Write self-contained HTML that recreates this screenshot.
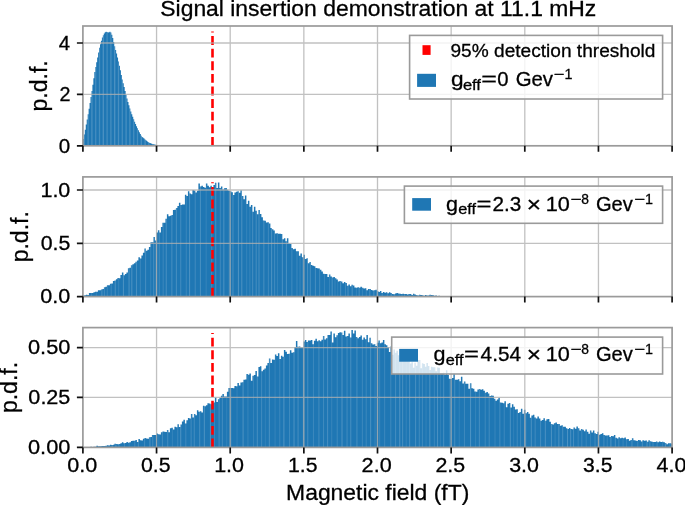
<!DOCTYPE html>
<html><head><meta charset="utf-8"><style>html,body{margin:0;padding:0;background:#fff;overflow:hidden}svg{display:block;will-change:transform}text{fill:#000;stroke:#000;stroke-width:0.3px}</style></head>
<body><svg width="685" height="505" viewBox="0 0 685 505"><rect width="685" height="505" fill="#fff"/><path d="M82.90,145.8L82.90,139.00L83.85,139.00L83.85,134.62L84.80,134.62L84.80,129.63L85.75,129.63L85.75,124.47L86.70,124.47L86.70,119.40L87.65,119.40L87.65,114.18L88.60,114.18L88.60,108.71L89.55,108.71L89.55,103.00L90.50,103.00L90.50,97.06L91.45,97.06L91.45,91.12L92.40,91.12L92.40,84.84L93.35,84.84L93.35,78.13L94.30,78.13L94.30,71.94L95.25,71.94L95.25,66.90L96.20,66.90L96.20,62.27L97.15,62.27L97.15,57.58L98.10,57.58L98.10,52.44L99.05,52.44L99.05,47.72L100.00,47.72L100.00,44.23L100.95,44.23L100.95,40.84L101.90,40.84L101.90,37.59L102.85,37.59L102.85,35.14L103.80,35.14L103.80,33.43L104.75,33.43L104.75,32.26L105.70,32.26L105.70,31.74L106.65,31.74L106.65,32.08L107.60,32.08L107.60,32.58L108.55,32.58L108.55,32.15L109.50,32.15L109.50,31.66L110.45,31.66L110.45,32.45L111.40,32.45L111.40,34.63L112.35,34.63L112.35,37.98L113.30,37.98L113.30,42.03L114.25,42.03L114.25,46.13L115.20,46.13L115.20,49.94L116.15,49.94L116.15,53.61L117.10,53.61L117.10,57.46L118.05,57.46L118.05,61.46L119.00,61.46L119.00,65.63L119.95,65.63L119.95,70.21L120.90,70.21L120.90,74.98L121.85,74.98L121.85,79.40L122.80,79.40L122.80,83.26L123.75,83.26L123.75,87.01L124.70,87.01L124.70,91.00L125.65,91.00L125.65,95.00L126.60,95.00L126.60,98.60L127.55,98.60L127.55,102.02L128.50,102.02L128.50,105.31L129.45,105.31L129.45,108.51L130.40,108.51L130.40,111.47L131.35,111.47L131.35,114.14L132.30,114.14L132.30,116.75L133.25,116.75L133.25,119.33L134.20,119.33L134.20,121.71L135.15,121.71L135.15,123.94L136.10,123.94L136.10,126.15L137.05,126.15L137.05,128.31L138.00,128.31L138.00,130.32L138.95,130.32L138.95,132.21L139.90,132.21L139.90,134.07L140.85,134.07L140.85,135.77L141.80,135.77L141.80,136.93L142.75,136.93L142.75,137.78L143.70,137.78L143.70,138.60L144.65,138.60L144.65,139.42L145.60,139.42L145.60,140.24L146.55,140.24L146.55,141.07L147.50,141.07L147.50,141.89L148.45,141.89L148.45,142.59L149.40,142.59L149.40,143.01L150.35,143.01L150.35,143.33L151.30,143.33L151.30,143.64L152.25,143.64L152.25,143.95L153.20,143.95L153.20,144.26L154.15,144.26L154.15,144.55L155.10,144.55L155.10,144.79L156.05,144.79L156.05,145.03L157.00,145.03L157.00,145.26L157.95,145.26L157.95,145.43L158.90,145.43L158.90,145.54L159.85,145.54L159.85,145.63L160.80,145.63L160.80,145.8L161.75,145.8L161.75,145.8L162.70,145.8L162.70,145.8L163.65,145.8L163.65,145.8L164.60,145.8L164.60,145.8L165.55,145.8L165.55,145.8L166.50,145.8L166.50,145.8L167.45,145.8L167.45,145.8L168.40,145.8L168.40,145.8L169.35,145.8L169.35,145.8L170.30,145.8L170.30,145.8L171.25,145.8L171.25,145.8L172.20,145.8L172.20,145.8L173.15,145.8L173.15,145.8L174.10,145.8L174.10,145.8L175.05,145.8L175.05,145.8L176.00,145.8L176.00,145.8L176.95,145.8L176.95,145.8L177.90,145.8L177.90,145.8L178.85,145.8L178.85,145.8L179.80,145.8L179.80,145.8L180.75,145.8L180.75,145.8L181.70,145.8L181.70,145.8L182.65,145.8L182.65,145.8L183.60,145.8L183.60,145.8L184.55,145.8L184.55,145.8L185.50,145.8L185.50,145.8L186.45,145.8L186.45,145.8L187.40,145.8L187.40,145.8L188.35,145.8L188.35,145.8L189.30,145.8L189.30,145.8L190.25,145.8L190.25,145.8L191.20,145.8L191.20,145.8L192.15,145.8L192.15,145.8L193.10,145.8L193.10,145.8L194.05,145.8L194.05,145.8L195.00,145.8L195.00,145.8L195.95,145.8L195.95,145.8L196.90,145.8L196.90,145.8L197.85,145.8L197.85,145.8L198.80,145.8L198.80,145.8L199.75,145.8L199.75,145.8L200.70,145.8L200.70,145.8L201.65,145.8L201.65,145.8L202.60,145.8L202.60,145.8L203.55,145.8L203.55,145.8L204.50,145.8L204.50,145.8L205.45,145.8L205.45,145.8L206.40,145.8L206.40,145.8L207.35,145.8L207.35,145.8L208.30,145.8L208.30,145.8L209.25,145.8L209.25,145.8L210.20,145.8L210.20,145.8L211.15,145.8L211.15,145.8L212.10,145.8L212.10,145.8L213.05,145.8L213.05,145.8L214.00,145.8L214.00,145.8L214.95,145.8L214.95,145.8L215.90,145.8L215.90,145.8L216.85,145.8L216.85,145.8L217.80,145.8L217.80,145.8L218.75,145.8L218.75,145.8L219.70,145.8L219.70,145.8L220.65,145.8L220.65,145.8L221.60,145.8L221.60,145.8L222.55,145.8L222.55,145.8L223.50,145.8L223.50,145.8L224.45,145.8L224.45,145.8L225.40,145.8L225.40,145.8L226.35,145.8L226.35,145.8L227.30,145.8L227.30,145.8L228.25,145.8L228.25,145.8L229.20,145.8L229.20,145.8L230.15,145.8L230.15,145.8L231.10,145.8L231.10,145.8L232.05,145.8L232.05,145.8L233.00,145.8L233.00,145.8L233.95,145.8L233.95,145.8L234.90,145.8L234.90,145.8L235.85,145.8L235.85,145.8L236.80,145.8L236.80,145.8L237.75,145.8L237.75,145.8L238.70,145.8L238.70,145.8L239.65,145.8L239.65,145.8L240.60,145.8L240.60,145.8L241.55,145.8L241.55,145.8L242.50,145.8L242.50,145.8L243.45,145.8L243.45,145.8L244.40,145.8L244.40,145.8L245.35,145.8L245.35,145.8L246.30,145.8L246.30,145.8L247.25,145.8L247.25,145.8L248.20,145.8L248.20,145.8L249.15,145.8L249.15,145.8L250.10,145.8L250.10,145.8L251.05,145.8L251.05,145.8L252.00,145.8L252.00,145.8L252.95,145.8L252.95,145.8L253.90,145.8L253.90,145.8L254.85,145.8L254.85,145.8L255.80,145.8L255.80,145.8L256.75,145.8L256.75,145.8L257.70,145.8L257.70,145.8L258.65,145.8L258.65,145.8L259.60,145.8L259.60,145.8L260.55,145.8L260.55,145.8L261.50,145.8L261.50,145.8L262.45,145.8L262.45,145.8L263.40,145.8L263.40,145.8L264.35,145.8L264.35,145.8L265.30,145.8L265.30,145.8L266.25,145.8L266.25,145.8L267.20,145.8L267.20,145.8L268.15,145.8L268.15,145.8L269.10,145.8L269.10,145.8L270.05,145.8L270.05,145.8L271.00,145.8L271.00,145.8L271.95,145.8L271.95,145.8L272.90,145.8L272.90,145.8L273.85,145.8L273.85,145.8L274.80,145.8L274.80,145.8L275.75,145.8L275.75,145.8L276.70,145.8L276.70,145.8L277.65,145.8L277.65,145.8L278.60,145.8L278.60,145.8L279.55,145.8L279.55,145.8L280.50,145.8L280.50,145.8L281.45,145.8L281.45,145.8L282.40,145.8L282.40,145.8L283.35,145.8L283.35,145.8L284.30,145.8L284.30,145.8L285.25,145.8L285.25,145.8L286.20,145.8L286.20,145.8L287.15,145.8L287.15,145.8L288.10,145.8L288.10,145.8L289.05,145.8L289.05,145.8L290.00,145.8L290.00,145.8L290.95,145.8L290.95,145.8L291.90,145.8L291.90,145.8L292.85,145.8L292.85,145.8L293.80,145.8L293.80,145.8L294.75,145.8L294.75,145.8L295.70,145.8L295.70,145.8L296.65,145.8L296.65,145.8L297.60,145.8L297.60,145.8L298.55,145.8L298.55,145.8L299.50,145.8L299.50,145.8L300.45,145.8L300.45,145.8L301.40,145.8L301.40,145.8L302.35,145.8L302.35,145.8L303.30,145.8L303.30,145.8L304.25,145.8L304.25,145.8L305.20,145.8L305.20,145.8L306.15,145.8L306.15,145.8L307.10,145.8L307.10,145.8L308.05,145.8L308.05,145.8L309.00,145.8L309.00,145.8L309.95,145.8L309.95,145.8L310.90,145.8L310.90,145.8L311.85,145.8L311.85,145.8L312.80,145.8L312.80,145.8L313.75,145.8L313.75,145.8L314.70,145.8L314.70,145.8L315.65,145.8L315.65,145.8L316.60,145.8L316.60,145.8L317.55,145.8L317.55,145.8L318.50,145.8L318.50,145.8L319.45,145.8L319.45,145.8L320.40,145.8L320.40,145.8L321.35,145.8L321.35,145.8L322.30,145.8L322.30,145.8L323.25,145.8L323.25,145.8L324.20,145.8L324.20,145.8L325.15,145.8L325.15,145.8L326.10,145.8L326.10,145.8L327.05,145.8L327.05,145.8L328.00,145.8L328.00,145.8L328.95,145.8L328.95,145.8L329.90,145.8L329.90,145.8L330.85,145.8L330.85,145.8L331.80,145.8L331.80,145.8L332.75,145.8L332.75,145.8L333.70,145.8L333.70,145.8L334.65,145.8L334.65,145.8L335.60,145.8L335.60,145.8L336.55,145.8L336.55,145.8L337.50,145.8L337.50,145.8L338.45,145.8L338.45,145.8L339.40,145.8L339.40,145.8L340.35,145.8L340.35,145.8L341.30,145.8L341.30,145.8L342.25,145.8L342.25,145.8L343.20,145.8L343.20,145.8L344.15,145.8L344.15,145.8L345.10,145.8L345.10,145.8L346.05,145.8L346.05,145.8L347.00,145.8L347.00,145.8L347.95,145.8L347.95,145.8L348.90,145.8L348.90,145.8L349.85,145.8L349.85,145.8L350.80,145.8L350.80,145.8L351.75,145.8L351.75,145.8L352.70,145.8L352.70,145.8L353.65,145.8L353.65,145.8L354.60,145.8L354.60,145.8L355.55,145.8L355.55,145.8L356.50,145.8L356.50,145.8L357.45,145.8L357.45,145.8L358.40,145.8L358.40,145.8L359.35,145.8L359.35,145.8L360.30,145.8L360.30,145.8L361.25,145.8L361.25,145.8L362.20,145.8L362.20,145.8L363.15,145.8L363.15,145.8L364.10,145.8L364.10,145.8L365.05,145.8L365.05,145.8L366.00,145.8L366.00,145.8L366.95,145.8L366.95,145.8L367.90,145.8L367.90,145.8L368.85,145.8L368.85,145.8L369.80,145.8L369.80,145.8L370.75,145.8L370.75,145.8L371.70,145.8L371.70,145.8L372.65,145.8L372.65,145.8L373.60,145.8L373.60,145.8L374.55,145.8L374.55,145.8L375.50,145.8L375.50,145.8L376.45,145.8L376.45,145.8L377.40,145.8L377.40,145.8L378.35,145.8L378.35,145.8L379.30,145.8L379.30,145.8L380.25,145.8L380.25,145.8L381.20,145.8L381.20,145.8L382.15,145.8L382.15,145.8L383.10,145.8L383.10,145.8L384.05,145.8L384.05,145.8L385.00,145.8L385.00,145.8L385.95,145.8L385.95,145.8L386.90,145.8L386.90,145.8L387.85,145.8L387.85,145.8L388.80,145.8L388.80,145.8L389.75,145.8L389.75,145.8L390.70,145.8L390.70,145.8L391.65,145.8L391.65,145.8L392.60,145.8L392.60,145.8L393.55,145.8L393.55,145.8L394.50,145.8L394.50,145.8L395.45,145.8L395.45,145.8L396.40,145.8L396.40,145.8L397.35,145.8L397.35,145.8L398.30,145.8L398.30,145.8L399.25,145.8L399.25,145.8L400.20,145.8L400.20,145.8L401.15,145.8L401.15,145.8L402.10,145.8L402.10,145.8L403.05,145.8L403.05,145.8L404.00,145.8L404.00,145.8L404.95,145.8L404.95,145.8L405.90,145.8L405.90,145.8L406.85,145.8L406.85,145.8L407.80,145.8L407.80,145.8L408.75,145.8L408.75,145.8L409.70,145.8L409.70,145.8L410.65,145.8L410.65,145.8L411.60,145.8L411.60,145.8L412.55,145.8L412.55,145.8L413.50,145.8L413.50,145.8L414.45,145.8L414.45,145.8L415.40,145.8L415.40,145.8L416.35,145.8L416.35,145.8L417.30,145.8L417.30,145.8L418.25,145.8L418.25,145.8L419.20,145.8L419.20,145.8L420.15,145.8L420.15,145.8L421.10,145.8L421.10,145.8L422.05,145.8L422.05,145.8L423.00,145.8L423.00,145.8L423.95,145.8L423.95,145.8L424.90,145.8L424.90,145.8L425.85,145.8L425.85,145.8L426.80,145.8L426.80,145.8L427.75,145.8L427.75,145.8L428.70,145.8L428.70,145.8L429.65,145.8L429.65,145.8L430.60,145.8L430.60,145.8L431.55,145.8L431.55,145.8L432.50,145.8L432.50,145.8L433.45,145.8L433.45,145.8L434.40,145.8L434.40,145.8L435.35,145.8L435.35,145.8L436.30,145.8L436.30,145.8L437.25,145.8L437.25,145.8L438.20,145.8L438.20,145.8L439.15,145.8L439.15,145.8L440.10,145.8L440.10,145.8L441.05,145.8L441.05,145.8L442.00,145.8L442.00,145.8L442.95,145.8L442.95,145.8L443.90,145.8L443.90,145.8L444.85,145.8L444.85,145.8L445.80,145.8L445.80,145.8L446.75,145.8L446.75,145.8L447.70,145.8L447.70,145.8L448.65,145.8L448.65,145.8L449.60,145.8L449.60,145.8L450.55,145.8L450.55,145.8L451.50,145.8L451.50,145.8L452.45,145.8L452.45,145.8L453.40,145.8L453.40,145.8L454.35,145.8L454.35,145.8L455.30,145.8L455.30,145.8L456.25,145.8L456.25,145.8L457.20,145.8L457.20,145.8L458.15,145.8L458.15,145.8L459.10,145.8L459.10,145.8L460.05,145.8L460.05,145.8L461.00,145.8L461.00,145.8L461.95,145.8L461.95,145.8L462.90,145.8L462.90,145.8L463.85,145.8L463.85,145.8L464.80,145.8L464.80,145.8L465.75,145.8L465.75,145.8L466.70,145.8L466.70,145.8L467.65,145.8L467.65,145.8L468.60,145.8L468.60,145.8L469.55,145.8L469.55,145.8L470.50,145.8L470.50,145.8L471.45,145.8L471.45,145.8L472.40,145.8L472.40,145.8L473.35,145.8L473.35,145.8L474.30,145.8L474.30,145.8L475.25,145.8L475.25,145.8L476.20,145.8L476.20,145.8L477.15,145.8L477.15,145.8L478.10,145.8L478.10,145.8L479.05,145.8L479.05,145.8L480.00,145.8L480.00,145.8L480.95,145.8L480.95,145.8L481.90,145.8L481.90,145.8L482.85,145.8L482.85,145.8L483.80,145.8L483.80,145.8L484.75,145.8L484.75,145.8L485.70,145.8L485.70,145.8L486.65,145.8L486.65,145.8L487.60,145.8L487.60,145.8L488.55,145.8L488.55,145.8L489.50,145.8L489.50,145.8L490.45,145.8L490.45,145.8L491.40,145.8L491.40,145.8L492.35,145.8L492.35,145.8L493.30,145.8L493.30,145.8L494.25,145.8L494.25,145.8L495.20,145.8L495.20,145.8L496.15,145.8L496.15,145.8L497.10,145.8L497.10,145.8L498.05,145.8L498.05,145.8L499.00,145.8L499.00,145.8L499.95,145.8L499.95,145.8L500.90,145.8L500.90,145.8L501.85,145.8L501.85,145.8L502.80,145.8L502.80,145.8L503.75,145.8L503.75,145.8L504.70,145.8L504.70,145.8L505.65,145.8L505.65,145.8L506.60,145.8L506.60,145.8L507.55,145.8L507.55,145.8L508.50,145.8L508.50,145.8L509.45,145.8L509.45,145.8L510.40,145.8L510.40,145.8L511.35,145.8L511.35,145.8L512.30,145.8L512.30,145.8L513.25,145.8L513.25,145.8L514.20,145.8L514.20,145.8L515.15,145.8L515.15,145.8L516.10,145.8L516.10,145.8L517.05,145.8L517.05,145.8L518.00,145.8L518.00,145.8L518.95,145.8L518.95,145.8L519.90,145.8L519.90,145.8L520.85,145.8L520.85,145.8L521.80,145.8L521.80,145.8L522.75,145.8L522.75,145.8L523.70,145.8L523.70,145.8L524.65,145.8L524.65,145.8L525.60,145.8L525.60,145.8L526.55,145.8L526.55,145.8L527.50,145.8L527.50,145.8L528.45,145.8L528.45,145.8L529.40,145.8L529.40,145.8L530.35,145.8L530.35,145.8L531.30,145.8L531.30,145.8L532.25,145.8L532.25,145.8L533.20,145.8L533.20,145.8L534.15,145.8L534.15,145.8L535.10,145.8L535.10,145.8L536.05,145.8L536.05,145.8L537.00,145.8L537.00,145.8L537.95,145.8L537.95,145.8L538.90,145.8L538.90,145.8L539.85,145.8L539.85,145.8L540.80,145.8L540.80,145.8L541.75,145.8L541.75,145.8L542.70,145.8L542.70,145.8L543.65,145.8L543.65,145.8L544.60,145.8L544.60,145.8L545.55,145.8L545.55,145.8L546.50,145.8L546.50,145.8L547.45,145.8L547.45,145.8L548.40,145.8L548.40,145.8L549.35,145.8L549.35,145.8L550.30,145.8L550.30,145.8L551.25,145.8L551.25,145.8L552.20,145.8L552.20,145.8L553.15,145.8L553.15,145.8L554.10,145.8L554.10,145.8L555.05,145.8L555.05,145.8L556.00,145.8L556.00,145.8L556.95,145.8L556.95,145.8L557.90,145.8L557.90,145.8L558.85,145.8L558.85,145.8L559.80,145.8L559.80,145.8L560.75,145.8L560.75,145.8L561.70,145.8L561.70,145.8L562.65,145.8L562.65,145.8L563.60,145.8L563.60,145.8L564.55,145.8L564.55,145.8L565.50,145.8L565.50,145.8L566.45,145.8L566.45,145.8L567.40,145.8L567.40,145.8L568.35,145.8L568.35,145.8L569.30,145.8L569.30,145.8L570.25,145.8L570.25,145.8L571.20,145.8L571.20,145.8L572.15,145.8L572.15,145.8L573.10,145.8L573.10,145.8L574.05,145.8L574.05,145.8L575.00,145.8L575.00,145.8L575.95,145.8L575.95,145.8L576.90,145.8L576.90,145.8L577.85,145.8L577.85,145.8L578.80,145.8L578.80,145.8L579.75,145.8L579.75,145.8L580.70,145.8L580.70,145.8L581.65,145.8L581.65,145.8L582.60,145.8L582.60,145.8L583.55,145.8L583.55,145.8L584.50,145.8L584.50,145.8L585.45,145.8L585.45,145.8L586.40,145.8L586.40,145.8L587.35,145.8L587.35,145.8L588.30,145.8L588.30,145.8L589.25,145.8L589.25,145.8L590.20,145.8L590.20,145.8L591.15,145.8L591.15,145.8L592.10,145.8L592.10,145.8L593.05,145.8L593.05,145.8L594.00,145.8L594.00,145.8L594.95,145.8L594.95,145.8L595.90,145.8L595.90,145.8L596.85,145.8L596.85,145.8L597.80,145.8L597.80,145.8L598.75,145.8L598.75,145.8L599.70,145.8L599.70,145.8L600.65,145.8L600.65,145.8L601.60,145.8L601.60,145.8L602.55,145.8L602.55,145.8L603.50,145.8L603.50,145.8L604.45,145.8L604.45,145.8L605.40,145.8L605.40,145.8L606.35,145.8L606.35,145.8L607.30,145.8L607.30,145.8L608.25,145.8L608.25,145.8L609.20,145.8L609.20,145.8L610.15,145.8L610.15,145.8L611.10,145.8L611.10,145.8L612.05,145.8L612.05,145.8L613.00,145.8L613.00,145.8L613.95,145.8L613.95,145.8L614.90,145.8L614.90,145.8L615.85,145.8L615.85,145.8L616.80,145.8L616.80,145.8L617.75,145.8L617.75,145.8L618.70,145.8L618.70,145.8L619.65,145.8L619.65,145.8L620.60,145.8L620.60,145.8L621.55,145.8L621.55,145.8L622.50,145.8L622.50,145.8L623.45,145.8L623.45,145.8L624.40,145.8L624.40,145.8L625.35,145.8L625.35,145.8L626.30,145.8L626.30,145.8L627.25,145.8L627.25,145.8L628.20,145.8L628.20,145.8L629.15,145.8L629.15,145.8L630.10,145.8L630.10,145.8L631.05,145.8L631.05,145.8L632.00,145.8L632.00,145.8L632.95,145.8L632.95,145.8L633.90,145.8L633.90,145.8L634.85,145.8L634.85,145.8L635.80,145.8L635.80,145.8L636.75,145.8L636.75,145.8L637.70,145.8L637.70,145.8L638.65,145.8L638.65,145.8L639.60,145.8L639.60,145.8L640.55,145.8L640.55,145.8L641.50,145.8L641.50,145.8L642.45,145.8L642.45,145.8L643.40,145.8L643.40,145.8L644.35,145.8L644.35,145.8L645.30,145.8L645.30,145.8L646.25,145.8L646.25,145.8L647.20,145.8L647.20,145.8L648.15,145.8L648.15,145.8L649.10,145.8L649.10,145.8L650.05,145.8L650.05,145.8L651.00,145.8L651.00,145.8L651.95,145.8L651.95,145.8L652.90,145.8L652.90,145.8L653.85,145.8L653.85,145.8L654.80,145.8L654.80,145.8L655.75,145.8L655.75,145.8L656.70,145.8L656.70,145.8L657.65,145.8L657.65,145.8L658.60,145.8L658.60,145.8L659.55,145.8L659.55,145.8L660.50,145.8L660.50,145.8L661.45,145.8L661.45,145.8L662.40,145.8L662.40,145.8L663.35,145.8L663.35,145.8L664.30,145.8L664.30,145.8L665.25,145.8L665.25,145.8L666.20,145.8L666.20,145.8L667.15,145.8L667.15,145.8L668.10,145.8L668.10,145.8L669.05,145.8L669.05,145.8L670.00,145.8L670.00,145.8L670.95,145.8L670.95,145.8L671.90,145.8L671.90,145.8L672.10,145.8L672.10,145.8Z" fill="#1f77b4"/><rect x="83.65" y="134.62" width="1.3" height="11.18" fill="#fff" fill-opacity="0.17"/><rect x="87.45" y="114.18" width="1.3" height="31.62" fill="#fff" fill-opacity="0.18"/><rect x="91.25" y="91.12" width="1.3" height="54.68" fill="#fff" fill-opacity="0.18"/><rect x="95.05" y="66.90" width="1.3" height="78.90" fill="#fff" fill-opacity="0.16"/><rect x="98.85" y="47.72" width="1.3" height="98.08" fill="#fff" fill-opacity="0.17"/><rect x="102.65" y="35.14" width="1.3" height="110.66" fill="#fff" fill-opacity="0.20"/><rect x="106.45" y="32.08" width="1.3" height="113.72" fill="#fff" fill-opacity="0.16"/><rect x="110.25" y="32.45" width="1.3" height="113.35" fill="#fff" fill-opacity="0.17"/><rect x="114.05" y="46.13" width="1.3" height="99.67" fill="#fff" fill-opacity="0.20"/><rect x="117.85" y="61.46" width="1.3" height="84.34" fill="#fff" fill-opacity="0.18"/><rect x="121.65" y="79.40" width="1.3" height="66.40" fill="#fff" fill-opacity="0.17"/><rect x="125.45" y="95.00" width="1.3" height="50.80" fill="#fff" fill-opacity="0.18"/><rect x="129.25" y="108.51" width="1.3" height="37.29" fill="#fff" fill-opacity="0.19"/><rect x="133.05" y="119.33" width="1.3" height="26.47" fill="#fff" fill-opacity="0.17"/><rect x="136.85" y="128.31" width="1.3" height="17.49" fill="#fff" fill-opacity="0.17"/><rect x="140.65" y="135.77" width="1.3" height="10.03" fill="#fff" fill-opacity="0.19"/><rect x="144.45" y="139.42" width="1.3" height="6.38" fill="#fff" fill-opacity="0.19"/><rect x="148.25" y="142.59" width="1.3" height="3.21" fill="#fff" fill-opacity="0.18"/><rect x="152.05" y="143.95" width="1.3" height="1.85" fill="#fff" fill-opacity="0.19"/><path d="M212.5,145.8L212.5,31.4" stroke="#ff0000" stroke-width="2.6" stroke-dasharray="8.9 3.7" fill="none"/><path d="M156.55,26.0L156.55,145.8M230.20,26.0L230.20,145.8M303.85,26.0L303.85,145.8M377.50,26.0L377.50,145.8M451.15,26.0L451.15,145.8M524.80,26.0L524.80,145.8M598.45,26.0L598.45,145.8M82.9,94.40L672.1,94.40M82.9,43.00L672.1,43.00" stroke="#b0b0b0" stroke-opacity="0.78" stroke-width="1.3" fill="none"/><rect x="82.9" y="26.0" width="589.20" height="119.80" fill="none" stroke="#9a9a9a" stroke-width="1.7"/><path d="M82.90,145.8L82.90,151.8M156.55,145.8L156.55,151.8M230.20,145.8L230.20,151.8M303.85,145.8L303.85,151.8M377.50,145.8L377.50,151.8M451.15,145.8L451.15,151.8M524.80,145.8L524.80,151.8M598.45,145.8L598.45,151.8M672.10,145.8L672.10,151.8M82.9,145.80L76.9,145.80M82.9,94.40L76.9,94.40M82.9,43.00L76.9,43.00" stroke="#111" stroke-width="1.7" fill="none"/><text x="58.88" y="152.60" font-family="Liberation Sans, sans-serif" font-size="20.3" textLength="11.41" lengthAdjust="spacingAndGlyphs">0</text><text x="59.54" y="101.20" font-family="Liberation Sans, sans-serif" font-size="20.3" textLength="10.97" lengthAdjust="spacingAndGlyphs">2</text><text x="58.76" y="49.80" font-family="Liberation Sans, sans-serif" font-size="20.3" textLength="11.32" lengthAdjust="spacingAndGlyphs">4</text><path d="M82.90,296.6L82.90,295.58L84.40,295.58L84.40,295.29L85.90,295.29L85.90,294.79L87.40,294.79L87.40,295.01L88.90,295.01L88.90,293.04L90.40,293.04L90.40,292.88L91.90,292.88L91.90,293.11L93.40,293.11L93.40,292.14L94.90,292.14L94.90,291.87L96.40,291.87L96.40,291.75L97.90,291.75L97.90,290.23L99.40,290.23L99.40,290.27L100.90,290.27L100.90,289.51L102.40,289.51L102.40,289.00L103.90,289.00L103.90,287.26L105.40,287.26L105.40,286.76L106.90,286.76L106.90,285.32L108.40,285.32L108.40,285.29L109.90,285.29L109.90,283.70L111.40,283.70L111.40,283.59L112.90,283.59L112.90,280.95L114.40,280.95L114.40,280.45L115.90,280.45L115.90,279.17L117.40,279.17L117.40,277.92L118.90,277.92L118.90,278.24L120.40,278.24L120.40,275.10L121.90,275.10L121.90,272.40L123.40,272.40L123.40,275.30L124.90,275.30L124.90,274.12L126.40,274.12L126.40,272.53L127.90,272.53L127.90,268.27L129.40,268.27L129.40,267.78L130.90,267.78L130.90,265.15L132.40,265.15L132.40,264.17L133.90,264.17L133.90,263.35L135.40,263.35L135.40,261.65L136.90,261.65L136.90,260.60L138.40,260.60L138.40,257.31L139.90,257.31L139.90,258.50L141.40,258.50L141.40,255.62L142.90,255.62L142.90,252.77L144.40,252.77L144.40,248.46L145.90,248.46L145.90,250.87L147.40,250.87L147.40,249.65L148.90,249.65L148.90,246.95L150.40,246.95L150.40,242.31L151.90,242.31L151.90,242.25L153.40,242.25L153.40,237.12L154.90,237.12L154.90,240.57L156.40,240.57L156.40,232.53L157.90,232.53L157.90,230.22L159.40,230.22L159.40,232.56L160.90,232.56L160.90,227.09L162.40,227.09L162.40,222.63L163.90,222.63L163.90,222.73L165.40,222.73L165.40,218.75L166.90,218.75L166.90,214.21L168.40,214.21L168.40,216.37L169.90,216.37L169.90,215.69L171.40,215.69L171.40,214.90L172.90,214.90L172.90,209.88L174.40,209.88L174.40,209.87L175.90,209.87L175.90,208.01L177.40,208.01L177.40,206.11L178.90,206.11L178.90,202.71L180.40,202.71L180.40,205.08L181.90,205.08L181.90,204.57L183.40,204.57L183.40,204.55L184.90,204.55L184.90,194.86L186.40,194.86L186.40,196.02L187.90,196.02L187.90,191.13L189.40,191.13L189.40,193.52L190.90,193.52L190.90,194.14L192.40,194.14L192.40,190.05L193.90,190.05L193.90,190.43L195.40,190.43L195.40,192.49L196.90,192.49L196.90,190.83L198.40,190.83L198.40,183.55L199.90,183.55L199.90,186.49L201.40,186.49L201.40,185.78L202.90,185.78L202.90,187.04L204.40,187.04L204.40,187.68L205.90,187.68L205.90,183.40L207.40,183.40L207.40,185.76L208.90,185.76L208.90,187.36L210.40,187.36L210.40,185.79L211.90,185.79L211.90,187.77L213.40,187.77L213.40,185.05L214.90,185.05L214.90,182.76L216.40,182.76L216.40,187.89L217.90,187.89L217.90,182.44L219.40,182.44L219.40,188.12L220.90,188.12L220.90,186.52L222.40,186.52L222.40,189.47L223.90,189.47L223.90,188.34L225.40,188.34L225.40,188.05L226.90,188.05L226.90,189.65L228.40,189.65L228.40,190.79L229.90,190.79L229.90,191.29L231.40,191.29L231.40,192.32L232.90,192.32L232.90,194.91L234.40,194.91L234.40,192.48L235.90,192.48L235.90,191.66L237.40,191.66L237.40,191.27L238.90,191.27L238.90,192.82L240.40,192.82L240.40,190.14L241.90,190.14L241.90,195.96L243.40,195.96L243.40,199.30L244.90,199.30L244.90,195.44L246.40,195.44L246.40,203.96L247.90,203.96L247.90,200.83L249.40,200.83L249.40,206.73L250.90,206.73L250.90,205.11L252.40,205.11L252.40,211.79L253.90,211.79L253.90,206.77L255.40,206.77L255.40,210.72L256.90,210.72L256.90,214.18L258.40,214.18L258.40,210.11L259.90,210.11L259.90,213.88L261.40,213.88L261.40,217.16L262.90,217.16L262.90,220.52L264.40,220.52L264.40,220.65L265.90,220.65L265.90,222.47L267.40,222.47L267.40,222.19L268.90,222.19L268.90,223.59L270.40,223.59L270.40,228.04L271.90,228.04L271.90,229.22L273.40,229.22L273.40,230.54L274.90,230.54L274.90,233.47L276.40,233.47L276.40,233.34L277.90,233.34L277.90,233.77L279.40,233.77L279.40,233.69L280.90,233.69L280.90,233.93L282.40,233.93L282.40,239.26L283.90,239.26L283.90,238.14L285.40,238.14L285.40,241.34L286.90,241.34L286.90,238.28L288.40,238.28L288.40,243.50L289.90,243.50L289.90,244.02L291.40,244.02L291.40,247.93L292.90,247.93L292.90,249.14L294.40,249.14L294.40,248.85L295.90,248.85L295.90,251.19L297.40,251.19L297.40,251.37L298.90,251.37L298.90,255.76L300.40,255.76L300.40,253.61L301.90,253.61L301.90,257.35L303.40,257.35L303.40,254.71L304.90,254.71L304.90,259.03L306.40,259.03L306.40,258.30L307.90,258.30L307.90,263.18L309.40,263.18L309.40,261.88L310.90,261.88L310.90,265.01L312.40,265.01L312.40,265.74L313.90,265.74L313.90,266.28L315.40,266.28L315.40,267.88L316.90,267.88L316.90,268.21L318.40,268.21L318.40,268.60L319.90,268.60L319.90,269.66L321.40,269.66L321.40,271.45L322.90,271.45L322.90,273.81L324.40,273.81L324.40,273.94L325.90,273.94L325.90,274.02L327.40,274.02L327.40,276.98L328.90,276.98L328.90,274.58L330.40,274.58L330.40,276.54L331.90,276.54L331.90,277.44L333.40,277.44L333.40,277.10L334.90,277.10L334.90,278.29L336.40,278.29L336.40,279.56L337.90,279.56L337.90,281.49L339.40,281.49L339.40,280.92L340.90,280.92L340.90,281.52L342.40,281.52L342.40,283.23L343.90,283.23L343.90,282.07L345.40,282.07L345.40,283.11L346.90,283.11L346.90,285.78L348.40,285.78L348.40,284.55L349.90,284.55L349.90,286.21L351.40,286.21L351.40,284.80L352.90,284.80L352.90,285.56L354.40,285.56L354.40,287.46L355.90,287.46L355.90,287.68L357.40,287.68L357.40,287.29L358.90,287.29L358.90,287.84L360.40,287.84L360.40,286.86L361.90,286.86L361.90,287.67L363.40,287.67L363.40,288.61L364.90,288.61L364.90,288.25L366.40,288.25L366.40,290.24L367.90,290.24L367.90,288.96L369.40,288.96L369.40,288.92L370.90,288.92L370.90,289.93L372.40,289.93L372.40,290.61L373.90,290.61L373.90,290.20L375.40,290.20L375.40,289.74L376.90,289.74L376.90,291.07L378.40,291.07L378.40,292.08L379.90,292.08L379.90,290.96L381.40,290.96L381.40,292.94L382.90,292.94L382.90,291.94L384.40,291.94L384.40,292.69L385.90,292.69L385.90,292.15L387.40,292.15L387.40,293.17L388.90,293.17L388.90,292.33L390.40,292.33L390.40,292.95L391.90,292.95L391.90,293.98L393.40,293.98L393.40,294.20L394.90,294.20L394.90,293.60L396.40,293.60L396.40,293.03L397.90,293.03L397.90,293.62L399.40,293.62L399.40,293.73L400.90,293.73L400.90,293.94L402.40,293.94L402.40,293.65L403.90,293.65L403.90,293.89L405.40,293.89L405.40,294.02L406.90,294.02L406.90,294.59L408.40,294.59L408.40,293.89L409.90,293.89L409.90,293.94L411.40,293.94L411.40,294.97L412.90,294.97L412.90,293.87L414.40,293.87L414.40,294.47L415.90,294.47L415.90,294.96L417.40,294.96L417.40,295.49L418.90,295.49L418.90,294.77L420.40,294.77L420.40,294.89L421.90,294.89L421.90,295.31L423.40,295.31L423.40,295.71L424.90,295.71L424.90,294.96L426.40,294.96L426.40,295.48L427.90,295.48L427.90,295.50L429.40,295.50L429.40,294.86L430.90,294.86L430.90,294.94L432.40,294.94L432.40,295.30L433.90,295.30L433.90,295.70L435.40,295.70L435.40,295.49L436.90,295.49L436.90,296.20L438.40,296.20L438.40,295.73L439.90,295.73L439.90,295.97L441.40,295.97L441.40,296.13L442.90,296.13L442.90,296.24L444.40,296.24L444.40,295.90L445.90,295.90L445.90,296.04L447.40,296.04L447.40,296.09L448.90,296.09L448.90,296.04L450.40,296.04L450.40,296.35L451.90,296.35L451.90,296.44L453.40,296.44L453.40,296.6L454.90,296.6L454.90,296.37L456.40,296.37L456.40,296.26L457.90,296.26L457.90,296.38L459.40,296.38L459.40,296.31L460.90,296.31L460.90,296.6L462.40,296.6L462.40,296.6L463.90,296.6L463.90,296.6L465.40,296.6L465.40,296.6L466.90,296.6L466.90,296.30L468.40,296.30L468.40,296.41L469.90,296.41L469.90,296.6L471.40,296.6L471.40,296.6L472.90,296.6L472.90,296.6L474.40,296.6L474.40,296.6L475.90,296.6L475.90,296.6L477.40,296.6L477.40,296.6L478.90,296.6L478.90,296.6L480.40,296.6L480.40,296.6L481.90,296.6L481.90,296.6L483.40,296.6L483.40,296.6L484.90,296.6L484.90,296.6L486.40,296.6L486.40,296.6L487.90,296.6L487.90,296.6L489.40,296.6L489.40,296.6L490.90,296.6L490.90,296.6L492.40,296.6L492.40,296.6L493.90,296.6L493.90,296.6L495.40,296.6L495.40,296.6L496.90,296.6L496.90,296.6L498.40,296.6L498.40,296.6L499.90,296.6L499.90,296.6L501.40,296.6L501.40,296.6L502.90,296.6L502.90,296.6L504.40,296.6L504.40,296.6L505.90,296.6L505.90,296.6L507.40,296.6L507.40,296.6L508.90,296.6L508.90,296.6L510.40,296.6L510.40,296.6L511.90,296.6L511.90,296.6L513.40,296.6L513.40,296.6L514.90,296.6L514.90,296.6L516.40,296.6L516.40,296.6L517.90,296.6L517.90,296.6L519.40,296.6L519.40,296.6L520.90,296.6L520.90,296.6L522.40,296.6L522.40,296.6L523.90,296.6L523.90,296.6L525.40,296.6L525.40,296.6L526.90,296.6L526.90,296.6L528.40,296.6L528.40,296.6L529.90,296.6L529.90,296.6L531.40,296.6L531.40,296.6L532.90,296.6L532.90,296.6L534.40,296.6L534.40,296.6L535.90,296.6L535.90,296.6L537.40,296.6L537.40,296.6L538.90,296.6L538.90,296.6L540.40,296.6L540.40,296.6L541.90,296.6L541.90,296.6L543.40,296.6L543.40,296.6L544.90,296.6L544.90,296.6L546.40,296.6L546.40,296.6L547.90,296.6L547.90,296.6L549.40,296.6L549.40,296.6L550.90,296.6L550.90,296.6L552.40,296.6L552.40,296.6L553.90,296.6L553.90,296.6L555.40,296.6L555.40,296.6L556.90,296.6L556.90,296.6L558.40,296.6L558.40,296.6L559.90,296.6L559.90,296.6L561.40,296.6L561.40,296.6L562.90,296.6L562.90,296.6L564.40,296.6L564.40,296.6L565.90,296.6L565.90,296.6L567.40,296.6L567.40,296.6L568.90,296.6L568.90,296.6L570.40,296.6L570.40,296.6L571.90,296.6L571.90,296.6L573.40,296.6L573.40,296.6L574.90,296.6L574.90,296.6L576.40,296.6L576.40,296.6L577.90,296.6L577.90,296.6L579.40,296.6L579.40,296.6L580.90,296.6L580.90,296.6L582.40,296.6L582.40,296.6L583.90,296.6L583.90,296.6L585.40,296.6L585.40,296.6L586.90,296.6L586.90,296.6L588.40,296.6L588.40,296.6L589.90,296.6L589.90,296.6L591.40,296.6L591.40,296.6L592.90,296.6L592.90,296.6L594.40,296.6L594.40,296.6L595.90,296.6L595.90,296.6L597.40,296.6L597.40,296.6L598.90,296.6L598.90,296.6L600.40,296.6L600.40,296.6L601.90,296.6L601.90,296.6L603.40,296.6L603.40,296.6L604.90,296.6L604.90,296.6L606.40,296.6L606.40,296.6L607.90,296.6L607.90,296.6L609.40,296.6L609.40,296.6L610.90,296.6L610.90,296.6L612.40,296.6L612.40,296.6L613.90,296.6L613.90,296.6L615.40,296.6L615.40,296.6L616.90,296.6L616.90,296.6L618.40,296.6L618.40,296.6L619.90,296.6L619.90,296.6L621.40,296.6L621.40,296.6L622.90,296.6L622.90,296.6L624.40,296.6L624.40,296.6L625.90,296.6L625.90,296.6L627.40,296.6L627.40,296.6L628.90,296.6L628.90,296.6L630.40,296.6L630.40,296.6L631.90,296.6L631.90,296.6L633.40,296.6L633.40,296.6L634.90,296.6L634.90,296.6L636.40,296.6L636.40,296.6L637.90,296.6L637.90,296.6L639.40,296.6L639.40,296.6L640.90,296.6L640.90,296.6L642.40,296.6L642.40,296.6L643.90,296.6L643.90,296.6L645.40,296.6L645.40,296.6L646.90,296.6L646.90,296.6L648.40,296.6L648.40,296.6L649.90,296.6L649.90,296.6L651.40,296.6L651.40,296.6L652.90,296.6L652.90,296.6L654.40,296.6L654.40,296.6L655.90,296.6L655.90,296.6L657.40,296.6L657.40,296.6L658.90,296.6L658.90,296.6L660.40,296.6L660.40,296.6L661.90,296.6L661.90,296.6L663.40,296.6L663.40,296.6L664.90,296.6L664.90,296.6L666.40,296.6L666.40,296.6L667.90,296.6L667.90,296.6L669.40,296.6L669.40,296.6L670.90,296.6L670.90,296.6L672.10,296.6L672.10,296.6Z" fill="#1f77b4"/><rect x="84.15" y="295.29" width="1.1" height="1.31" fill="#fff" fill-opacity="0.19"/><rect x="87.31" y="295.01" width="1.1" height="1.59" fill="#fff" fill-opacity="0.10"/><rect x="91.00" y="292.88" width="1.1" height="3.72" fill="#fff" fill-opacity="0.11"/><rect x="95.78" y="291.87" width="1.1" height="4.73" fill="#fff" fill-opacity="0.09"/><rect x="101.31" y="289.51" width="1.1" height="7.09" fill="#fff" fill-opacity="0.18"/><rect x="103.84" y="287.26" width="1.1" height="9.34" fill="#fff" fill-opacity="0.14"/><rect x="106.72" y="285.32" width="1.1" height="11.28" fill="#fff" fill-opacity="0.11"/><rect x="110.64" y="283.70" width="1.1" height="12.90" fill="#fff" fill-opacity="0.13"/><rect x="114.73" y="280.45" width="1.1" height="16.15" fill="#fff" fill-opacity="0.19"/><rect x="118.12" y="277.92" width="1.1" height="18.68" fill="#fff" fill-opacity="0.10"/><rect x="122.89" y="275.30" width="1.1" height="21.30" fill="#fff" fill-opacity="0.19"/><rect x="128.51" y="268.27" width="1.1" height="28.33" fill="#fff" fill-opacity="0.19"/><rect x="131.25" y="265.15" width="1.1" height="31.45" fill="#fff" fill-opacity="0.19"/><rect x="135.95" y="261.65" width="1.1" height="34.95" fill="#fff" fill-opacity="0.18"/><rect x="139.84" y="258.50" width="1.1" height="38.10" fill="#fff" fill-opacity="0.11"/><rect x="145.03" y="248.46" width="1.1" height="48.14" fill="#fff" fill-opacity="0.16"/><rect x="150.16" y="242.31" width="1.1" height="54.29" fill="#fff" fill-opacity="0.10"/><rect x="153.14" y="237.12" width="1.1" height="59.48" fill="#fff" fill-opacity="0.17"/><rect x="155.72" y="240.57" width="1.1" height="56.03" fill="#fff" fill-opacity="0.19"/><rect x="158.70" y="230.22" width="1.1" height="66.38" fill="#fff" fill-opacity="0.15"/><rect x="162.63" y="222.63" width="1.1" height="73.97" fill="#fff" fill-opacity="0.12"/><rect x="165.72" y="218.75" width="1.1" height="77.85" fill="#fff" fill-opacity="0.17"/><rect x="171.31" y="214.90" width="1.1" height="81.70" fill="#fff" fill-opacity="0.17"/><rect x="175.85" y="208.01" width="1.1" height="88.59" fill="#fff" fill-opacity="0.17"/><rect x="180.17" y="205.08" width="1.1" height="91.52" fill="#fff" fill-opacity="0.15"/><rect x="185.73" y="194.86" width="1.1" height="101.74" fill="#fff" fill-opacity="0.11"/><rect x="189.00" y="193.52" width="1.1" height="103.08" fill="#fff" fill-opacity="0.19"/><rect x="194.69" y="190.43" width="1.1" height="106.17" fill="#fff" fill-opacity="0.14"/><rect x="199.90" y="186.49" width="1.1" height="110.11" fill="#fff" fill-opacity="0.17"/><rect x="205.61" y="183.40" width="1.1" height="113.20" fill="#fff" fill-opacity="0.09"/><rect x="211.15" y="185.79" width="1.1" height="110.81" fill="#fff" fill-opacity="0.14"/><rect x="215.17" y="182.76" width="1.1" height="113.84" fill="#fff" fill-opacity="0.16"/><rect x="219.77" y="188.12" width="1.1" height="108.48" fill="#fff" fill-opacity="0.13"/><rect x="223.26" y="189.47" width="1.1" height="107.13" fill="#fff" fill-opacity="0.19"/><rect x="228.54" y="190.79" width="1.1" height="105.81" fill="#fff" fill-opacity="0.09"/><rect x="232.41" y="194.91" width="1.1" height="101.69" fill="#fff" fill-opacity="0.17"/><rect x="237.89" y="191.27" width="1.1" height="105.33" fill="#fff" fill-opacity="0.20"/><rect x="241.22" y="190.14" width="1.1" height="106.46" fill="#fff" fill-opacity="0.19"/><rect x="246.07" y="203.96" width="1.1" height="92.64" fill="#fff" fill-opacity="0.09"/><rect x="249.30" y="206.73" width="1.1" height="89.87" fill="#fff" fill-opacity="0.10"/><rect x="252.08" y="211.79" width="1.1" height="84.81" fill="#fff" fill-opacity="0.16"/><rect x="255.64" y="210.72" width="1.1" height="85.88" fill="#fff" fill-opacity="0.16"/><rect x="258.44" y="210.11" width="1.1" height="86.49" fill="#fff" fill-opacity="0.18"/><rect x="263.29" y="220.52" width="1.1" height="76.08" fill="#fff" fill-opacity="0.17"/><rect x="267.85" y="222.19" width="1.1" height="74.41" fill="#fff" fill-opacity="0.13"/><rect x="271.02" y="228.04" width="1.1" height="68.56" fill="#fff" fill-opacity="0.19"/><rect x="274.03" y="230.54" width="1.1" height="66.06" fill="#fff" fill-opacity="0.14"/><rect x="276.96" y="233.34" width="1.1" height="63.26" fill="#fff" fill-opacity="0.09"/><rect x="281.82" y="233.93" width="1.1" height="62.67" fill="#fff" fill-opacity="0.19"/><rect x="285.89" y="241.34" width="1.1" height="55.26" fill="#fff" fill-opacity="0.18"/><rect x="291.29" y="247.93" width="1.1" height="48.67" fill="#fff" fill-opacity="0.14"/><rect x="296.42" y="251.19" width="1.1" height="45.41" fill="#fff" fill-opacity="0.12"/><rect x="299.44" y="255.76" width="1.1" height="40.84" fill="#fff" fill-opacity="0.10"/><rect x="301.99" y="257.35" width="1.1" height="39.25" fill="#fff" fill-opacity="0.09"/><rect x="307.03" y="258.30" width="1.1" height="38.30" fill="#fff" fill-opacity="0.19"/><rect x="309.74" y="261.88" width="1.1" height="34.72" fill="#fff" fill-opacity="0.17"/><rect x="314.88" y="267.88" width="1.1" height="28.72" fill="#fff" fill-opacity="0.16"/><rect x="319.07" y="268.60" width="1.1" height="28.00" fill="#fff" fill-opacity="0.14"/><rect x="323.93" y="273.94" width="1.1" height="22.66" fill="#fff" fill-opacity="0.11"/><rect x="328.98" y="274.58" width="1.1" height="22.02" fill="#fff" fill-opacity="0.10"/><rect x="331.62" y="277.44" width="1.1" height="19.16" fill="#fff" fill-opacity="0.19"/><rect x="334.44" y="278.29" width="1.1" height="18.31" fill="#fff" fill-opacity="0.10"/><rect x="337.15" y="279.56" width="1.1" height="17.04" fill="#fff" fill-opacity="0.08"/><rect x="340.08" y="280.92" width="1.1" height="15.68" fill="#fff" fill-opacity="0.19"/><rect x="344.94" y="283.11" width="1.1" height="13.49" fill="#fff" fill-opacity="0.13"/><rect x="347.48" y="285.78" width="1.1" height="10.82" fill="#fff" fill-opacity="0.18"/><rect x="351.63" y="284.80" width="1.1" height="11.80" fill="#fff" fill-opacity="0.18"/><rect x="355.85" y="287.68" width="1.1" height="8.92" fill="#fff" fill-opacity="0.09"/><rect x="358.61" y="287.84" width="1.1" height="8.76" fill="#fff" fill-opacity="0.17"/><rect x="361.88" y="287.67" width="1.1" height="8.93" fill="#fff" fill-opacity="0.10"/><rect x="365.78" y="288.25" width="1.1" height="8.35" fill="#fff" fill-opacity="0.11"/><rect x="369.23" y="288.92" width="1.1" height="7.68" fill="#fff" fill-opacity="0.18"/><rect x="373.32" y="290.61" width="1.1" height="5.99" fill="#fff" fill-opacity="0.20"/><rect x="376.17" y="289.74" width="1.1" height="6.86" fill="#fff" fill-opacity="0.12"/><rect x="381.66" y="292.94" width="1.1" height="3.66" fill="#fff" fill-opacity="0.13"/><rect x="386.76" y="292.15" width="1.1" height="4.45" fill="#fff" fill-opacity="0.13"/><rect x="390.65" y="292.95" width="1.1" height="3.65" fill="#fff" fill-opacity="0.19"/><rect x="394.22" y="294.20" width="1.1" height="2.40" fill="#fff" fill-opacity="0.15"/><rect x="398.64" y="293.62" width="1.1" height="2.98" fill="#fff" fill-opacity="0.09"/><rect x="401.49" y="293.94" width="1.1" height="2.66" fill="#fff" fill-opacity="0.11"/><rect x="404.02" y="293.89" width="1.1" height="2.71" fill="#fff" fill-opacity="0.16"/><rect x="408.48" y="293.89" width="1.1" height="2.71" fill="#fff" fill-opacity="0.12"/><rect x="412.41" y="293.87" width="1.1" height="2.73" fill="#fff" fill-opacity="0.08"/><rect x="416.28" y="294.96" width="1.1" height="1.64" fill="#fff" fill-opacity="0.18"/><rect x="418.92" y="294.77" width="1.1" height="1.83" fill="#fff" fill-opacity="0.16"/><rect x="427.02" y="295.48" width="1.1" height="1.12" fill="#fff" fill-opacity="0.12"/><rect x="430.15" y="294.86" width="1.1" height="1.74" fill="#fff" fill-opacity="0.15"/><path d="M212.5,296.6L212.5,182.2" stroke="#ff0000" stroke-width="2.6" stroke-dasharray="8.9 3.7" fill="none"/><path d="M156.55,176.9L156.55,296.6M230.20,176.9L230.20,296.6M303.85,176.9L303.85,296.6M377.50,176.9L377.50,296.6M451.15,176.9L451.15,296.6M524.80,176.9L524.80,296.6M598.45,176.9L598.45,296.6M82.9,243.30L672.1,243.30M82.9,190.00L672.1,190.00" stroke="#b0b0b0" stroke-opacity="0.78" stroke-width="1.3" fill="none"/><rect x="82.9" y="176.9" width="589.20" height="119.70" fill="none" stroke="#9a9a9a" stroke-width="1.7"/><path d="M82.90,296.6L82.90,302.6M156.55,296.6L156.55,302.6M230.20,296.6L230.20,302.6M303.85,296.6L303.85,302.6M377.50,296.6L377.50,302.6M451.15,296.6L451.15,302.6M524.80,296.6L524.80,302.6M598.45,296.6L598.45,302.6M672.10,296.6L672.10,302.6M82.9,296.60L76.9,296.60M82.9,243.30L76.9,243.30M82.9,190.00L76.9,190.00" stroke="#111" stroke-width="1.7" fill="none"/><text x="40.31" y="303.40" font-family="Liberation Sans, sans-serif" font-size="20.3" textLength="30.00" lengthAdjust="spacingAndGlyphs">0.0</text><text x="40.71" y="250.10" font-family="Liberation Sans, sans-serif" font-size="20.3" textLength="29.65" lengthAdjust="spacingAndGlyphs">0.5</text><text x="40.44" y="196.80" font-family="Liberation Sans, sans-serif" font-size="20.3" textLength="29.87" lengthAdjust="spacingAndGlyphs">1.0</text><path d="M82.90,447.4L82.90,447.09L84.40,447.09L84.40,447.4L85.90,447.4L85.90,447.05L87.40,447.05L87.40,447.11L88.90,447.11L88.90,447.00L90.40,447.00L90.40,446.84L91.90,446.84L91.90,447.16L93.40,447.16L93.40,446.63L94.90,446.63L94.90,446.70L96.40,446.70L96.40,445.71L97.90,445.71L97.90,446.16L99.40,446.16L99.40,446.22L100.90,446.22L100.90,446.08L102.40,446.08L102.40,446.09L103.90,446.09L103.90,446.12L105.40,446.12L105.40,445.76L106.90,445.76L106.90,445.29L108.40,445.29L108.40,445.43L109.90,445.43L109.90,444.77L111.40,444.77L111.40,445.08L112.90,445.08L112.90,444.77L114.40,444.77L114.40,443.83L115.90,443.83L115.90,444.06L117.40,444.06L117.40,444.35L118.90,444.35L118.90,443.95L120.40,443.95L120.40,443.33L121.90,443.33L121.90,442.29L123.40,442.29L123.40,443.28L124.90,443.28L124.90,443.00L126.40,443.00L126.40,441.95L127.90,441.95L127.90,442.82L129.40,442.82L129.40,442.13L130.90,442.13L130.90,441.01L132.40,441.01L132.40,440.87L133.90,440.87L133.90,440.87L135.40,440.87L135.40,440.10L136.90,440.10L136.90,441.89L138.40,441.89L138.40,439.12L139.90,439.12L139.90,440.31L141.40,440.31L141.40,440.56L142.90,440.56L142.90,438.65L144.40,438.65L144.40,437.94L145.90,437.94L145.90,438.53L147.40,438.53L147.40,438.68L148.90,438.68L148.90,437.28L150.40,437.28L150.40,436.88L151.90,436.88L151.90,435.03L153.40,435.03L153.40,435.10L154.90,435.10L154.90,435.07L156.40,435.07L156.40,433.57L157.90,433.57L157.90,434.30L159.40,434.30L159.40,434.45L160.90,434.45L160.90,432.24L162.40,432.24L162.40,431.61L163.90,431.61L163.90,431.87L165.40,431.87L165.40,431.89L166.90,431.89L166.90,430.09L168.40,430.09L168.40,432.29L169.90,432.29L169.90,428.18L171.40,428.18L171.40,427.68L172.90,427.68L172.90,429.59L174.40,429.59L174.40,426.69L175.90,426.69L175.90,427.23L177.40,427.23L177.40,424.15L178.90,424.15L178.90,427.02L180.40,427.02L180.40,424.61L181.90,424.61L181.90,421.39L183.40,421.39L183.40,419.74L184.90,419.74L184.90,423.54L186.40,423.54L186.40,420.17L187.90,420.17L187.90,418.00L189.40,418.00L189.40,418.48L190.90,418.48L190.90,414.12L192.40,414.12L192.40,417.50L193.90,417.50L193.90,414.05L195.40,414.05L195.40,415.30L196.90,415.30L196.90,410.26L198.40,410.26L198.40,411.63L199.90,411.63L199.90,411.26L201.40,411.26L201.40,412.62L202.90,412.62L202.90,405.76L204.40,405.76L204.40,406.34L205.90,406.34L205.90,405.22L207.40,405.22L207.40,403.35L208.90,403.35L208.90,403.60L210.40,403.60L210.40,404.31L211.90,404.31L211.90,403.58L213.40,403.58L213.40,402.60L214.90,402.60L214.90,397.47L216.40,397.47L216.40,401.99L217.90,401.99L217.90,399.35L219.40,399.35L219.40,397.81L220.90,397.81L220.90,395.70L222.40,395.70L222.40,393.93L223.90,393.93L223.90,396.56L225.40,396.56L225.40,396.46L226.90,396.46L226.90,391.76L228.40,391.76L228.40,388.07L229.90,388.07L229.90,387.92L231.40,387.92L231.40,388.03L232.90,388.03L232.90,388.20L234.40,388.20L234.40,385.93L235.90,385.93L235.90,386.19L237.40,386.19L237.40,382.93L238.90,382.93L238.90,385.60L240.40,385.60L240.40,382.61L241.90,382.61L241.90,382.23L243.40,382.23L243.40,379.80L244.90,379.80L244.90,379.57L246.40,379.57L246.40,374.03L247.90,374.03L247.90,374.64L249.40,374.64L249.40,373.60L250.90,373.60L250.90,380.85L252.40,380.85L252.40,375.69L253.90,375.69L253.90,375.11L255.40,375.11L255.40,371.10L256.90,371.10L256.90,376.53L258.40,376.53L258.40,367.09L259.90,367.09L259.90,366.31L261.40,366.31L261.40,371.30L262.90,371.30L262.90,369.68L264.40,369.68L264.40,368.45L265.90,368.45L265.90,365.49L267.40,365.49L267.40,363.05L268.90,363.05L268.90,358.43L270.40,358.43L270.40,363.10L271.90,363.10L271.90,359.45L273.40,359.45L273.40,359.85L274.90,359.85L274.90,354.43L276.40,354.43L276.40,355.96L277.90,355.96L277.90,353.25L279.40,353.25L279.40,358.90L280.90,358.90L280.90,355.79L282.40,355.79L282.40,356.85L283.90,356.85L283.90,350.04L285.40,350.04L285.40,351.82L286.90,351.82L286.90,353.91L288.40,353.91L288.40,353.71L289.90,353.71L289.90,350.37L291.40,350.37L291.40,352.65L292.90,352.65L292.90,352.14L294.40,352.14L294.40,346.96L295.90,346.96L295.90,340.91L297.40,340.91L297.40,346.66L298.90,346.66L298.90,346.59L300.40,346.59L300.40,347.55L301.90,347.55L301.90,347.39L303.40,347.39L303.40,341.53L304.90,341.53L304.90,340.09L306.40,340.09L306.40,341.98L307.90,341.98L307.90,340.51L309.40,340.51L309.40,340.58L310.90,340.58L310.90,339.98L312.40,339.98L312.40,344.32L313.90,344.32L313.90,340.80L315.40,340.80L315.40,338.83L316.90,338.83L316.90,341.23L318.40,341.23L318.40,340.23L319.90,340.23L319.90,341.16L321.40,341.16L321.40,339.66L322.90,339.66L322.90,336.01L324.40,336.01L324.40,339.41L325.90,339.41L325.90,338.29L327.40,338.29L327.40,335.03L328.90,335.03L328.90,335.09L330.40,335.09L330.40,331.60L331.90,331.60L331.90,342.44L333.40,342.44L333.40,333.47L334.90,333.47L334.90,337.24L336.40,337.24L336.40,335.28L337.90,335.28L337.90,333.12L339.40,333.12L339.40,332.34L340.90,332.34L340.90,332.44L342.40,332.44L342.40,335.05L343.90,335.05L343.90,330.75L345.40,330.75L345.40,336.39L346.90,336.39L346.90,336.05L348.40,336.05L348.40,333.41L349.90,333.41L349.90,337.62L351.40,337.62L351.40,329.89L352.90,329.89L352.90,333.55L354.40,333.55L354.40,330.41L355.90,330.41L355.90,337.11L357.40,337.11L357.40,338.35L358.90,338.35L358.90,336.96L360.40,336.96L360.40,335.59L361.90,335.59L361.90,339.86L363.40,339.86L363.40,337.51L364.90,337.51L364.90,339.20L366.40,339.20L366.40,335.02L367.90,335.02L367.90,342.19L369.40,342.19L369.40,337.79L370.90,337.79L370.90,343.19L372.40,343.19L372.40,344.57L373.90,344.57L373.90,344.29L375.40,344.29L375.40,346.08L376.90,346.08L376.90,342.64L378.40,342.64L378.40,340.48L379.90,340.48L379.90,343.32L381.40,343.32L381.40,342.40L382.90,342.40L382.90,339.96L384.40,339.96L384.40,344.32L385.90,344.32L385.90,345.15L387.40,345.15L387.40,347.27L388.90,347.27L388.90,352.01L390.40,352.01L390.40,346.59L391.90,346.59L391.90,354.87L393.40,354.87L393.40,349.56L394.90,349.56L394.90,352.67L396.40,352.67L396.40,350.79L397.90,350.79L397.90,355.17L399.40,355.17L399.40,358.27L400.90,358.27L400.90,356.13L402.40,356.13L402.40,359.52L403.90,359.52L403.90,359.37L405.40,359.37L405.40,359.53L406.90,359.53L406.90,360.64L408.40,360.64L408.40,361.34L409.90,361.34L409.90,363.51L411.40,363.51L411.40,362.27L412.90,362.27L412.90,367.68L414.40,367.68L414.40,362.87L415.90,362.87L415.90,365.81L417.40,365.81L417.40,360.06L418.90,360.06L418.90,359.89L420.40,359.89L420.40,368.37L421.90,368.37L421.90,363.19L423.40,363.19L423.40,364.11L424.90,364.11L424.90,366.73L426.40,366.73L426.40,363.04L427.90,363.04L427.90,366.04L429.40,366.04L429.40,369.95L430.90,369.95L430.90,366.84L432.40,366.84L432.40,367.28L433.90,367.28L433.90,367.36L435.40,367.36L435.40,371.37L436.90,371.37L436.90,367.44L438.40,367.44L438.40,367.86L439.90,367.86L439.90,373.30L441.40,373.30L441.40,373.02L442.90,373.02L442.90,372.63L444.40,372.63L444.40,374.85L445.90,374.85L445.90,370.34L447.40,370.34L447.40,374.95L448.90,374.95L448.90,378.67L450.40,378.67L450.40,378.92L451.90,378.92L451.90,377.97L453.40,377.97L453.40,373.48L454.90,373.48L454.90,379.72L456.40,379.72L456.40,379.67L457.90,379.67L457.90,379.36L459.40,379.36L459.40,381.17L460.90,381.17L460.90,376.67L462.40,376.67L462.40,383.56L463.90,383.56L463.90,381.52L465.40,381.52L465.40,383.77L466.90,383.77L466.90,383.76L468.40,383.76L468.40,388.73L469.90,388.73L469.90,383.29L471.40,383.29L471.40,388.30L472.90,388.30L472.90,388.77L474.40,388.77L474.40,391.52L475.90,391.52L475.90,391.65L477.40,391.65L477.40,389.39L478.90,389.39L478.90,388.90L480.40,388.90L480.40,389.77L481.90,389.77L481.90,389.21L483.40,389.21L483.40,390.74L484.90,390.74L484.90,392.80L486.40,392.80L486.40,391.96L487.90,391.96L487.90,393.50L489.40,393.50L489.40,396.06L490.90,396.06L490.90,395.61L492.40,395.61L492.40,395.65L493.90,395.65L493.90,398.72L495.40,398.72L495.40,400.72L496.90,400.72L496.90,399.41L498.40,399.41L498.40,397.84L499.90,397.84L499.90,402.43L501.40,402.43L501.40,402.70L502.90,402.70L502.90,403.23L504.40,403.23L504.40,401.16L505.90,401.16L505.90,407.32L507.40,407.32L507.40,403.86L508.90,403.86L508.90,403.06L510.40,403.06L510.40,407.48L511.90,407.48L511.90,404.21L513.40,404.21L513.40,406.81L514.90,406.81L514.90,409.60L516.40,409.60L516.40,409.15L517.90,409.15L517.90,412.94L519.40,412.94L519.40,412.02L520.90,412.02L520.90,408.67L522.40,408.67L522.40,413.78L523.90,413.78L523.90,409.75L525.40,409.75L525.40,413.36L526.90,413.36L526.90,411.98L528.40,411.98L528.40,413.87L529.90,413.87L529.90,417.84L531.40,417.84L531.40,415.61L532.90,415.61L532.90,414.86L534.40,414.86L534.40,417.52L535.90,417.52L535.90,418.41L537.40,418.41L537.40,416.38L538.90,416.38L538.90,418.59L540.40,418.59L540.40,420.81L541.90,420.81L541.90,419.90L543.40,419.90L543.40,418.22L544.90,418.22L544.90,420.80L546.40,420.80L546.40,419.37L547.90,419.37L547.90,419.12L549.40,419.12L549.40,421.81L550.90,421.81L550.90,423.93L552.40,423.93L552.40,424.60L553.90,424.60L553.90,423.28L555.40,423.28L555.40,422.53L556.90,422.53L556.90,423.89L558.40,423.89L558.40,424.06L559.90,424.06L559.90,425.87L561.40,425.87L561.40,425.32L562.90,425.32L562.90,426.68L564.40,426.68L564.40,426.80L565.90,426.80L565.90,428.33L567.40,428.33L567.40,428.98L568.90,428.98L568.90,427.92L570.40,427.92L570.40,429.03L571.90,429.03L571.90,429.19L573.40,429.19L573.40,427.53L574.90,427.53L574.90,428.83L576.40,428.83L576.40,426.39L577.90,426.39L577.90,428.25L579.40,428.25L579.40,430.39L580.90,430.39L580.90,429.00L582.40,429.00L582.40,429.75L583.90,429.75L583.90,431.21L585.40,431.21L585.40,429.40L586.90,429.40L586.90,431.80L588.40,431.80L588.40,433.67L589.90,433.67L589.90,430.59L591.40,430.59L591.40,432.47L592.90,432.47L592.90,430.49L594.40,430.49L594.40,433.18L595.90,433.18L595.90,434.12L597.40,434.12L597.40,431.65L598.90,431.65L598.90,434.84L600.40,434.84L600.40,433.97L601.90,433.97L601.90,433.15L603.40,433.15L603.40,434.90L604.90,434.90L604.90,435.45L606.40,435.45L606.40,435.59L607.90,435.59L607.90,435.19L609.40,435.19L609.40,437.02L610.90,437.02L610.90,435.98L612.40,435.98L612.40,436.29L613.90,436.29L613.90,435.12L615.40,435.12L615.40,437.65L616.90,437.65L616.90,438.39L618.40,438.39L618.40,437.16L619.90,437.16L619.90,438.31L621.40,438.31L621.40,437.87L622.90,437.87L622.90,438.15L624.40,438.15L624.40,437.44L625.90,437.44L625.90,439.15L627.40,439.15L627.40,438.89L628.90,438.89L628.90,440.82L630.40,440.82L630.40,439.99L631.90,439.99L631.90,438.31L633.40,438.31L633.40,440.27L634.90,440.27L634.90,440.49L636.40,440.49L636.40,441.07L637.90,441.07L637.90,439.90L639.40,439.90L639.40,440.37L640.90,440.37L640.90,441.53L642.40,441.53L642.40,440.34L643.90,440.34L643.90,440.79L645.40,440.79L645.40,440.58L646.90,440.58L646.90,441.68L648.40,441.68L648.40,440.16L649.90,440.16L649.90,441.20L651.40,441.20L651.40,441.67L652.90,441.67L652.90,442.06L654.40,442.06L654.40,442.00L655.90,442.00L655.90,441.41L657.40,441.41L657.40,442.30L658.90,442.30L658.90,441.61L660.40,441.61L660.40,442.10L661.90,442.10L661.90,441.82L663.40,441.82L663.40,442.34L664.90,442.34L664.90,443.06L666.40,443.06L666.40,444.31L667.90,444.31L667.90,443.24L669.40,443.24L669.40,443.14L670.90,443.14L670.90,443.60L672.10,443.60L672.10,447.4Z" fill="#1f77b4"/><rect x="97.78" y="446.16" width="1.1" height="1.24" fill="#fff" fill-opacity="0.11"/><rect x="100.75" y="446.08" width="1.1" height="1.32" fill="#fff" fill-opacity="0.19"/><rect x="105.66" y="445.76" width="1.1" height="1.64" fill="#fff" fill-opacity="0.08"/><rect x="111.64" y="445.08" width="1.1" height="2.32" fill="#fff" fill-opacity="0.20"/><rect x="115.37" y="444.06" width="1.1" height="3.34" fill="#fff" fill-opacity="0.18"/><rect x="118.37" y="443.95" width="1.1" height="3.45" fill="#fff" fill-opacity="0.13"/><rect x="124.01" y="443.28" width="1.1" height="4.12" fill="#fff" fill-opacity="0.13"/><rect x="128.58" y="442.82" width="1.1" height="4.58" fill="#fff" fill-opacity="0.09"/><rect x="134.21" y="440.87" width="1.1" height="6.53" fill="#fff" fill-opacity="0.14"/><rect x="137.80" y="441.89" width="1.1" height="5.51" fill="#fff" fill-opacity="0.17"/><rect x="144.03" y="437.94" width="1.1" height="9.46" fill="#fff" fill-opacity="0.14"/><rect x="149.38" y="437.28" width="1.1" height="10.12" fill="#fff" fill-opacity="0.20"/><rect x="152.19" y="435.03" width="1.1" height="12.37" fill="#fff" fill-opacity="0.15"/><rect x="158.37" y="434.30" width="1.1" height="13.10" fill="#fff" fill-opacity="0.09"/><rect x="161.87" y="431.61" width="1.1" height="15.79" fill="#fff" fill-opacity="0.15"/><rect x="167.17" y="430.09" width="1.1" height="17.31" fill="#fff" fill-opacity="0.15"/><rect x="171.84" y="427.68" width="1.1" height="19.72" fill="#fff" fill-opacity="0.09"/><rect x="177.21" y="424.15" width="1.1" height="23.25" fill="#fff" fill-opacity="0.12"/><rect x="180.17" y="424.61" width="1.1" height="22.79" fill="#fff" fill-opacity="0.20"/><rect x="185.25" y="423.54" width="1.1" height="23.86" fill="#fff" fill-opacity="0.13"/><rect x="190.58" y="414.12" width="1.1" height="33.28" fill="#fff" fill-opacity="0.14"/><rect x="193.73" y="414.05" width="1.1" height="33.35" fill="#fff" fill-opacity="0.15"/><rect x="199.12" y="411.63" width="1.1" height="35.77" fill="#fff" fill-opacity="0.17"/><rect x="203.81" y="405.76" width="1.1" height="41.64" fill="#fff" fill-opacity="0.19"/><rect x="209.91" y="404.31" width="1.1" height="43.09" fill="#fff" fill-opacity="0.18"/><rect x="213.95" y="402.60" width="1.1" height="44.80" fill="#fff" fill-opacity="0.11"/><rect x="218.56" y="399.35" width="1.1" height="48.05" fill="#fff" fill-opacity="0.16"/><rect x="221.84" y="395.70" width="1.1" height="51.70" fill="#fff" fill-opacity="0.15"/><rect x="226.12" y="396.46" width="1.1" height="50.94" fill="#fff" fill-opacity="0.08"/><rect x="230.32" y="387.92" width="1.1" height="59.48" fill="#fff" fill-opacity="0.13"/><rect x="236.49" y="386.19" width="1.1" height="61.21" fill="#fff" fill-opacity="0.09"/><rect x="242.54" y="382.23" width="1.1" height="65.17" fill="#fff" fill-opacity="0.19"/><rect x="247.39" y="374.64" width="1.1" height="72.76" fill="#fff" fill-opacity="0.10"/><rect x="252.94" y="375.69" width="1.1" height="71.71" fill="#fff" fill-opacity="0.10"/><rect x="256.80" y="376.53" width="1.1" height="70.87" fill="#fff" fill-opacity="0.16"/><rect x="261.03" y="371.30" width="1.1" height="76.10" fill="#fff" fill-opacity="0.14"/><rect x="264.82" y="368.45" width="1.1" height="78.95" fill="#fff" fill-opacity="0.08"/><rect x="268.82" y="358.43" width="1.1" height="88.97" fill="#fff" fill-opacity="0.18"/><rect x="274.51" y="354.43" width="1.1" height="92.97" fill="#fff" fill-opacity="0.09"/><rect x="279.20" y="358.90" width="1.1" height="88.50" fill="#fff" fill-opacity="0.12"/><rect x="283.33" y="356.85" width="1.1" height="90.55" fill="#fff" fill-opacity="0.20"/><rect x="288.95" y="353.71" width="1.1" height="93.69" fill="#fff" fill-opacity="0.14"/><rect x="293.47" y="352.14" width="1.1" height="95.26" fill="#fff" fill-opacity="0.19"/><rect x="297.52" y="346.66" width="1.1" height="100.74" fill="#fff" fill-opacity="0.17"/><rect x="302.85" y="341.53" width="1.1" height="105.87" fill="#fff" fill-opacity="0.17"/><rect x="307.19" y="341.98" width="1.1" height="105.42" fill="#fff" fill-opacity="0.16"/><rect x="312.91" y="344.32" width="1.1" height="103.08" fill="#fff" fill-opacity="0.12"/><rect x="318.35" y="340.23" width="1.1" height="107.17" fill="#fff" fill-opacity="0.14"/><rect x="322.98" y="336.01" width="1.1" height="111.39" fill="#fff" fill-opacity="0.14"/><rect x="327.03" y="335.03" width="1.1" height="112.37" fill="#fff" fill-opacity="0.17"/><rect x="331.14" y="331.60" width="1.1" height="115.80" fill="#fff" fill-opacity="0.10"/><rect x="336.67" y="335.28" width="1.1" height="112.12" fill="#fff" fill-opacity="0.13"/><rect x="341.46" y="332.44" width="1.1" height="114.96" fill="#fff" fill-opacity="0.20"/><rect x="346.49" y="336.05" width="1.1" height="111.35" fill="#fff" fill-opacity="0.14"/><rect x="350.21" y="337.62" width="1.1" height="109.78" fill="#fff" fill-opacity="0.17"/><rect x="356.37" y="337.11" width="1.1" height="110.29" fill="#fff" fill-opacity="0.16"/><rect x="361.84" y="339.86" width="1.1" height="107.54" fill="#fff" fill-opacity="0.12"/><rect x="365.67" y="339.20" width="1.1" height="108.20" fill="#fff" fill-opacity="0.12"/><rect x="370.09" y="337.79" width="1.1" height="109.61" fill="#fff" fill-opacity="0.19"/><rect x="374.47" y="344.29" width="1.1" height="103.11" fill="#fff" fill-opacity="0.10"/><rect x="379.09" y="340.48" width="1.1" height="106.92" fill="#fff" fill-opacity="0.11"/><rect x="384.08" y="344.32" width="1.1" height="103.08" fill="#fff" fill-opacity="0.12"/><rect x="390.20" y="346.59" width="1.1" height="100.81" fill="#fff" fill-opacity="0.13"/><rect x="395.00" y="352.67" width="1.1" height="94.73" fill="#fff" fill-opacity="0.15"/><rect x="399.19" y="358.27" width="1.1" height="89.13" fill="#fff" fill-opacity="0.20"/><rect x="402.05" y="359.52" width="1.1" height="87.88" fill="#fff" fill-opacity="0.17"/><rect x="405.70" y="359.53" width="1.1" height="87.87" fill="#fff" fill-opacity="0.09"/><rect x="409.04" y="361.34" width="1.1" height="86.06" fill="#fff" fill-opacity="0.17"/><rect x="415.02" y="362.87" width="1.1" height="84.53" fill="#fff" fill-opacity="0.17"/><rect x="418.74" y="359.89" width="1.1" height="87.51" fill="#fff" fill-opacity="0.14"/><rect x="421.87" y="363.19" width="1.1" height="84.21" fill="#fff" fill-opacity="0.13"/><rect x="425.50" y="366.73" width="1.1" height="80.67" fill="#fff" fill-opacity="0.08"/><rect x="429.24" y="369.95" width="1.1" height="77.45" fill="#fff" fill-opacity="0.19"/><rect x="433.85" y="367.36" width="1.1" height="80.04" fill="#fff" fill-opacity="0.11"/><rect x="436.97" y="367.44" width="1.1" height="79.96" fill="#fff" fill-opacity="0.19"/><rect x="439.99" y="373.30" width="1.1" height="74.10" fill="#fff" fill-opacity="0.08"/><rect x="443.10" y="372.63" width="1.1" height="74.77" fill="#fff" fill-opacity="0.17"/><rect x="449.16" y="378.67" width="1.1" height="68.73" fill="#fff" fill-opacity="0.09"/><rect x="454.16" y="373.48" width="1.1" height="73.92" fill="#fff" fill-opacity="0.16"/><rect x="458.75" y="379.36" width="1.1" height="68.04" fill="#fff" fill-opacity="0.08"/><rect x="463.94" y="381.52" width="1.1" height="65.88" fill="#fff" fill-opacity="0.13"/><rect x="470.00" y="383.29" width="1.1" height="64.11" fill="#fff" fill-opacity="0.20"/><rect x="474.99" y="391.52" width="1.1" height="55.88" fill="#fff" fill-opacity="0.09"/><rect x="478.83" y="388.90" width="1.1" height="58.50" fill="#fff" fill-opacity="0.16"/><rect x="484.67" y="392.80" width="1.1" height="54.60" fill="#fff" fill-opacity="0.13"/><rect x="488.67" y="393.50" width="1.1" height="53.90" fill="#fff" fill-opacity="0.15"/><rect x="494.45" y="398.72" width="1.1" height="48.68" fill="#fff" fill-opacity="0.10"/><rect x="499.29" y="397.84" width="1.1" height="49.56" fill="#fff" fill-opacity="0.15"/><rect x="503.70" y="403.23" width="1.1" height="44.17" fill="#fff" fill-opacity="0.12"/><rect x="509.81" y="403.06" width="1.1" height="44.34" fill="#fff" fill-opacity="0.18"/><rect x="513.07" y="406.81" width="1.1" height="40.59" fill="#fff" fill-opacity="0.08"/><rect x="516.70" y="409.15" width="1.1" height="38.25" fill="#fff" fill-opacity="0.13"/><rect x="519.99" y="412.02" width="1.1" height="35.38" fill="#fff" fill-opacity="0.12"/><rect x="525.14" y="413.36" width="1.1" height="34.04" fill="#fff" fill-opacity="0.17"/><rect x="530.78" y="417.84" width="1.1" height="29.56" fill="#fff" fill-opacity="0.18"/><rect x="534.64" y="417.52" width="1.1" height="29.88" fill="#fff" fill-opacity="0.14"/><rect x="540.00" y="420.81" width="1.1" height="26.59" fill="#fff" fill-opacity="0.15"/><rect x="544.79" y="420.80" width="1.1" height="26.60" fill="#fff" fill-opacity="0.18"/><rect x="550.89" y="423.93" width="1.1" height="23.47" fill="#fff" fill-opacity="0.19"/><rect x="554.56" y="423.28" width="1.1" height="24.12" fill="#fff" fill-opacity="0.09"/><rect x="558.30" y="424.06" width="1.1" height="23.34" fill="#fff" fill-opacity="0.18"/><rect x="562.14" y="425.32" width="1.1" height="22.08" fill="#fff" fill-opacity="0.17"/><rect x="566.97" y="428.98" width="1.1" height="18.42" fill="#fff" fill-opacity="0.20"/><rect x="570.10" y="429.03" width="1.1" height="18.37" fill="#fff" fill-opacity="0.18"/><rect x="572.97" y="427.53" width="1.1" height="19.87" fill="#fff" fill-opacity="0.16"/><rect x="577.61" y="428.25" width="1.1" height="19.15" fill="#fff" fill-opacity="0.11"/><rect x="581.25" y="429.00" width="1.1" height="18.40" fill="#fff" fill-opacity="0.13"/><rect x="585.69" y="429.40" width="1.1" height="18.00" fill="#fff" fill-opacity="0.10"/><rect x="589.98" y="430.59" width="1.1" height="16.81" fill="#fff" fill-opacity="0.09"/><rect x="594.48" y="433.18" width="1.1" height="14.22" fill="#fff" fill-opacity="0.14"/><rect x="598.57" y="434.84" width="1.1" height="12.56" fill="#fff" fill-opacity="0.14"/><rect x="603.32" y="434.90" width="1.1" height="12.50" fill="#fff" fill-opacity="0.14"/><rect x="606.67" y="435.59" width="1.1" height="11.81" fill="#fff" fill-opacity="0.11"/><rect x="610.33" y="437.02" width="1.1" height="10.38" fill="#fff" fill-opacity="0.20"/><rect x="614.83" y="435.12" width="1.1" height="12.28" fill="#fff" fill-opacity="0.16"/><rect x="618.26" y="437.16" width="1.1" height="10.24" fill="#fff" fill-opacity="0.14"/><rect x="622.54" y="438.15" width="1.1" height="9.25" fill="#fff" fill-opacity="0.10"/><rect x="626.03" y="439.15" width="1.1" height="8.25" fill="#fff" fill-opacity="0.11"/><rect x="631.39" y="438.31" width="1.1" height="9.09" fill="#fff" fill-opacity="0.17"/><rect x="637.21" y="441.07" width="1.1" height="6.33" fill="#fff" fill-opacity="0.12"/><rect x="641.78" y="441.53" width="1.1" height="5.87" fill="#fff" fill-opacity="0.17"/><rect x="646.50" y="441.68" width="1.1" height="5.72" fill="#fff" fill-opacity="0.18"/><rect x="649.28" y="440.16" width="1.1" height="7.24" fill="#fff" fill-opacity="0.16"/><rect x="652.45" y="442.06" width="1.1" height="5.34" fill="#fff" fill-opacity="0.14"/><rect x="656.56" y="441.41" width="1.1" height="5.99" fill="#fff" fill-opacity="0.13"/><rect x="662.02" y="441.82" width="1.1" height="5.58" fill="#fff" fill-opacity="0.09"/><rect x="664.90" y="443.06" width="1.1" height="4.34" fill="#fff" fill-opacity="0.19"/><rect x="669.35" y="443.14" width="1.1" height="4.26" fill="#fff" fill-opacity="0.13"/><path d="M212.5,447.4L212.5,333.0" stroke="#ff0000" stroke-width="2.6" stroke-dasharray="8.9 3.7" fill="none"/><path d="M156.55,327.6L156.55,447.4M230.20,327.6L230.20,447.4M303.85,327.6L303.85,447.4M377.50,327.6L377.50,447.4M451.15,327.6L451.15,447.4M524.80,327.6L524.80,447.4M598.45,327.6L598.45,447.4M82.9,397.47L672.1,397.47M82.9,347.55L672.1,347.55" stroke="#b0b0b0" stroke-opacity="0.78" stroke-width="1.3" fill="none"/><rect x="82.9" y="327.6" width="589.20" height="119.80" fill="none" stroke="#9a9a9a" stroke-width="1.7"/><path d="M82.90,447.4L82.90,453.4M156.55,447.4L156.55,453.4M230.20,447.4L230.20,453.4M303.85,447.4L303.85,453.4M377.50,447.4L377.50,453.4M451.15,447.4L451.15,453.4M524.80,447.4L524.80,453.4M598.45,447.4L598.45,453.4M672.10,447.4L672.10,453.4M82.9,447.40L76.9,447.40M82.9,397.47L76.9,397.47M82.9,347.55L76.9,347.55" stroke="#111" stroke-width="1.7" fill="none"/><text x="27.99" y="454.20" font-family="Liberation Sans, sans-serif" font-size="20.3" textLength="42.36" lengthAdjust="spacingAndGlyphs">0.00</text><text x="28.38" y="404.27" font-family="Liberation Sans, sans-serif" font-size="20.3" textLength="42.01" lengthAdjust="spacingAndGlyphs">0.25</text><text x="27.99" y="354.35" font-family="Liberation Sans, sans-serif" font-size="20.3" textLength="42.36" lengthAdjust="spacingAndGlyphs">0.50</text><text x="67.17" y="471.60" font-family="Liberation Sans, sans-serif" font-size="20.3" textLength="30.00" lengthAdjust="spacingAndGlyphs">0.0</text><text x="141.03" y="471.60" font-family="Liberation Sans, sans-serif" font-size="20.3" textLength="29.65" lengthAdjust="spacingAndGlyphs">0.5</text><text x="214.16" y="471.60" font-family="Liberation Sans, sans-serif" font-size="20.3" textLength="29.87" lengthAdjust="spacingAndGlyphs">1.0</text><text x="288.03" y="471.60" font-family="Liberation Sans, sans-serif" font-size="20.3" textLength="29.51" lengthAdjust="spacingAndGlyphs">1.5</text><text x="361.63" y="471.60" font-family="Liberation Sans, sans-serif" font-size="20.3" textLength="30.08" lengthAdjust="spacingAndGlyphs">2.0</text><text x="435.49" y="471.60" font-family="Liberation Sans, sans-serif" font-size="20.3" textLength="29.72" lengthAdjust="spacingAndGlyphs">2.5</text><text x="509.23" y="471.60" font-family="Liberation Sans, sans-serif" font-size="20.3" textLength="29.74" lengthAdjust="spacingAndGlyphs">3.0</text><text x="583.09" y="471.60" font-family="Liberation Sans, sans-serif" font-size="20.3" textLength="29.38" lengthAdjust="spacingAndGlyphs">3.5</text><text x="656.61" y="471.60" font-family="Liberation Sans, sans-serif" font-size="20.3" textLength="29.91" lengthAdjust="spacingAndGlyphs">4.0</text><text transform="translate(46.7,85.90) rotate(-90)" font-family="Liberation Sans, sans-serif" font-size="23" text-anchor="middle">p.d.f.</text><text transform="translate(28.4,236.75) rotate(-90)" font-family="Liberation Sans, sans-serif" font-size="23" text-anchor="middle">p.d.f.</text><text transform="translate(16.5,387.50) rotate(-90)" font-family="Liberation Sans, sans-serif" font-size="23" text-anchor="middle">p.d.f.</text><text x="378.3" y="16.4" font-family="Liberation Sans, sans-serif" font-size="22.9" text-anchor="middle">Signal insertion demonstration at 11.1 mHz</text><text x="377.7" y="499.9" font-family="Liberation Sans, sans-serif" font-size="22.9" text-anchor="middle">Magnetic field (fT)</text><rect x="409.6" y="35.4" width="253.00" height="63.60" fill="#fff" fill-opacity="0.8" stroke="#9a9a9a" stroke-width="1.6"/><rect x="422.5" y="45.2" width="8.1" height="9.7" fill="#ff0000"/><text x="450.49" y="56.70" font-family="Liberation Sans, sans-serif" font-size="19.1" textLength="204.95" lengthAdjust="spacingAndGlyphs">95% detection threshold</text><rect x="417.1" y="73.8" width="18.9" height="13.1" fill="#1f77b4"/><text x="451.14" y="86.40" font-family="Liberation Sans, sans-serif" font-size="20.2" textLength="12.61" lengthAdjust="spacingAndGlyphs">g</text><text x="462.90" y="89.90" font-family="Liberation Sans, sans-serif" font-size="14.1" textLength="18.08" lengthAdjust="spacingAndGlyphs">eff</text><text x="481.36" y="86.30" font-family="Liberation Sans, sans-serif" font-size="20.2" textLength="15.65" lengthAdjust="spacingAndGlyphs">=</text><text x="497.29" y="86.40" font-family="Liberation Sans, sans-serif" font-size="20.2" textLength="11.30" lengthAdjust="spacingAndGlyphs">0</text><text x="515.68" y="86.40" font-family="Liberation Sans, sans-serif" font-size="20.2" textLength="37.40" lengthAdjust="spacingAndGlyphs">Gev</text><text x="553.58" y="79.10" font-family="Liberation Sans, sans-serif" font-size="14.1" textLength="10.72" lengthAdjust="spacingAndGlyphs">−</text><text x="564.62" y="79.10" font-family="Liberation Sans, sans-serif" font-size="14.1" textLength="7.97" lengthAdjust="spacingAndGlyphs">1</text><rect x="404.4" y="186.1" width="258.20" height="37.20" fill="#fff" fill-opacity="0.8" stroke="#9a9a9a" stroke-width="1.6"/><rect x="412.2" y="198.1" width="18.8" height="12.6" fill="#1f77b4"/><text x="445.98" y="210.80" font-family="Liberation Sans, sans-serif" font-size="20.2" textLength="11.99" lengthAdjust="spacingAndGlyphs">g</text><text x="458.31" y="214.10" font-family="Liberation Sans, sans-serif" font-size="14.1" textLength="17.77" lengthAdjust="spacingAndGlyphs">eff</text><text x="476.62" y="210.70" font-family="Liberation Sans, sans-serif" font-size="20.2" textLength="14.93" lengthAdjust="spacingAndGlyphs">=</text><text x="492.56" y="210.80" font-family="Liberation Sans, sans-serif" font-size="20.2" textLength="28.82" lengthAdjust="spacingAndGlyphs">2.3</text><text x="526.69" y="211.77" font-family="Liberation Sans, sans-serif" font-size="22.47" textLength="14.30" lengthAdjust="spacingAndGlyphs">×</text><text x="545.78" y="210.80" font-family="Liberation Sans, sans-serif" font-size="20.2" textLength="24.09" lengthAdjust="spacingAndGlyphs">10</text><text x="570.24" y="203.50" font-family="Liberation Sans, sans-serif" font-size="14.1" textLength="11.20" lengthAdjust="spacingAndGlyphs">−</text><text x="581.21" y="203.50" font-family="Liberation Sans, sans-serif" font-size="14.1" textLength="7.69" lengthAdjust="spacingAndGlyphs">8</text><text x="595.89" y="210.80" font-family="Liberation Sans, sans-serif" font-size="20.2" textLength="36.89" lengthAdjust="spacingAndGlyphs">Gev</text><text x="634.07" y="203.50" font-family="Liberation Sans, sans-serif" font-size="14.1" textLength="10.84" lengthAdjust="spacingAndGlyphs">−</text><text x="645.02" y="203.50" font-family="Liberation Sans, sans-serif" font-size="14.1" textLength="7.97" lengthAdjust="spacingAndGlyphs">1</text><rect x="391.7" y="337.1" width="270.90" height="36.90" fill="#fff" fill-opacity="0.8" stroke="#9a9a9a" stroke-width="1.6"/><rect x="399.2" y="348.9" width="18.8" height="12.8" fill="#1f77b4"/><text x="433.48" y="361.30" font-family="Liberation Sans, sans-serif" font-size="20.2" textLength="11.99" lengthAdjust="spacingAndGlyphs">g</text><text x="445.81" y="364.60" font-family="Liberation Sans, sans-serif" font-size="14.1" textLength="17.77" lengthAdjust="spacingAndGlyphs">eff</text><text x="464.12" y="361.20" font-family="Liberation Sans, sans-serif" font-size="20.2" textLength="14.93" lengthAdjust="spacingAndGlyphs">=</text><text x="480.63" y="361.30" font-family="Liberation Sans, sans-serif" font-size="20.2" textLength="40.47" lengthAdjust="spacingAndGlyphs">4.54</text><text x="526.69" y="362.27" font-family="Liberation Sans, sans-serif" font-size="22.47" textLength="14.30" lengthAdjust="spacingAndGlyphs">×</text><text x="545.78" y="361.30" font-family="Liberation Sans, sans-serif" font-size="20.2" textLength="24.09" lengthAdjust="spacingAndGlyphs">10</text><text x="570.24" y="354.00" font-family="Liberation Sans, sans-serif" font-size="14.1" textLength="11.20" lengthAdjust="spacingAndGlyphs">−</text><text x="581.21" y="354.00" font-family="Liberation Sans, sans-serif" font-size="14.1" textLength="7.69" lengthAdjust="spacingAndGlyphs">8</text><text x="595.89" y="361.30" font-family="Liberation Sans, sans-serif" font-size="20.2" textLength="36.89" lengthAdjust="spacingAndGlyphs">Gev</text><text x="634.07" y="354.00" font-family="Liberation Sans, sans-serif" font-size="14.1" textLength="10.84" lengthAdjust="spacingAndGlyphs">−</text><text x="645.02" y="354.00" font-family="Liberation Sans, sans-serif" font-size="14.1" textLength="7.97" lengthAdjust="spacingAndGlyphs">1</text></svg></body></html>
